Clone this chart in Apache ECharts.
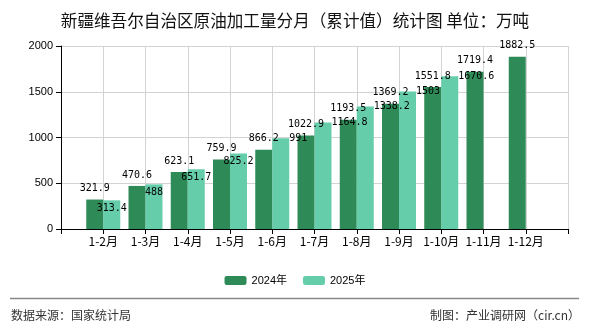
<!DOCTYPE html>
<html>
<head>
<meta charset="utf-8">
<script src="https://cdn.jsdelivr.net/npm/echarts@6/dist/echarts.min.js"></script>
<style>
html,body{margin:0;padding:0;background:#fff;}
#chart{width:590px;height:330px;}
</style>
</head>
<body>
<div id="chart"></div>
<script>
const months = ['1-2月','1-3月','1-4月','1-5月','1-6月','1-7月','1-8月','1-9月','1-10月','1-11月','1-12月'];
const values2024 = [321.9, 470.6, 623.1, 759.9, 866.2, 1022.9, 1193.5, 1369.2, 1551.8, 1719.4, 1882.5];
const values2025 = [313.4, 488, 651.7, 825.2, 991, 1164.8, 1338.2, 1503, 1670.6];
const yTicks = [0, 500, 1000, 1500, 2000];
const seriesNames = ['2024年', '2025年'];
const titleText = '新疆维吾尔自治区原油加工量分月（累计值）统计图 单位：万吨';
const sourceText = '数据来源：国家统计局';
const makerText = '制图：产业调研网（cir.cn）';

const CJK = "'Noto Sans CJK SC'";
const NUM = "'Liberation Sans','Noto Sans CJK SC'";
const MONO = "'DejaVu Sans Mono'";

// padded category axis: an empty slot on each side
const categories = [''].concat(months, ['']);
function pad(arr) {
  const out = ['-'];
  for (let i = 0; i < months.length; i++) out.push(i < arr.length ? arr[i] : '-');
  out.push('-');
  return out;
}
const d2024 = pad(values2024);
const d2025 = pad(values2025).map(function (v, i) {
  if (v === '-') return v;
  const k = i - 1;
  if (k < 4) {
    return { value: v, label: { position: 'insideTop', distance: 3 } };
  }
  return { value: v, label: { position: ['100%', 0], align: 'left', verticalAlign: 'middle' } };
});

const chart = echarts.init(document.getElementById('chart'), null, { renderer: 'canvas' });
chart.setOption({
  animation: false,
  backgroundColor: '#fff',
  title: {
    text: titleText,
    left: 'center',
    top: 7,
    textStyle: { fontFamily: CJK, fontSize: 16.6, fontWeight: 'normal', color: '#111' }
  },
  legend: {
    data: seriesNames,
    left: 'center',
    top: 270,
    itemWidth: 22,
    itemHeight: 9,
    itemGap: 16,
    textStyle: { fontFamily: NUM, fontSize: 11, color: '#000' }
  },
  grid: { left: 61, right: 22, top: 46, bottom: 101, containLabel: false },
  xAxis: {
    type: 'category',
    data: categories,
    boundaryGap: false,
    axisLine: { lineStyle: { color: '#000', width: 1 } },
    axisTick: { show: true, length: 5, lineStyle: { color: '#000' } },
    axisLabel: { interval: 0, margin: 6, fontFamily: CJK, fontSize: 12, color: '#000' },
    splitLine: { show: true, lineStyle: { color: '#d3d3d3', width: 1 } }
  },
  yAxis: {
    type: 'value',
    min: yTicks[0],
    max: yTicks[yTicks.length - 1],
    interval: yTicks[1] - yTicks[0],
    axisLine: { show: true, lineStyle: { color: '#000', width: 1 } },
    axisTick: { show: true, length: 5, lineStyle: { color: '#000' } },
    axisLabel: { margin: 8, fontFamily: NUM, fontSize: 11, color: '#000', formatter: function (v) { return String(v); } },
    splitLine: { show: true, lineStyle: { color: '#d3d3d3', width: 1 } }
  },
  series: [
    {
      name: seriesNames[0],
      type: 'bar',
      data: d2024,
      barWidth: 17,
      barGap: '0%',
      itemStyle: { color: '#2e8b57' },
      label: { show: true, position: 'top', distance: 6, fontFamily: MONO, fontSize: 10, color: '#000' }
    },
    {
      name: seriesNames[1],
      type: 'bar',
      data: d2025,
      barWidth: 17,
      barGap: '0%',
      itemStyle: { color: '#66cdaa' },
      label: { show: true, fontFamily: MONO, fontSize: 10, color: '#000' }
    }
  ],
  graphic: [
    { type: 'line', shape: { x1: 10, y1: 298.5, x2: 579, y2: 298.5 }, style: { stroke: '#888', lineWidth: 1.5 } },
    { type: 'text', left: 11, top: 309, style: { text: sourceText, font: '12px ' + CJK, fill: '#333' } },
    { type: 'text', right: 10, top: 309, style: { text: makerText, font: '12px ' + CJK, fill: '#333' } }
  ]
});
</script>
</body>
</html>
